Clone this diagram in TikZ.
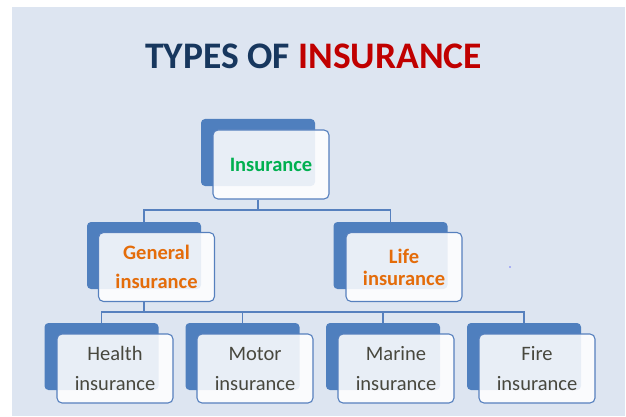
\documentclass[tikz,border=0pt]{standalone}
\usepackage{fontspec}
\setmainfont{Carlito}
\usepackage{xcolor}
\usepackage{tikz}

\definecolor{pagebg}{RGB}{221,229,241}
\definecolor{boxblue}{RGB}{79,127,190}
\definecolor{edgeblue}{RGB}{86,128,190}
\definecolor{titlenavy}{RGB}{23,55,94}
\definecolor{titlered}{RGB}{192,0,0}
\definecolor{topgreen}{RGB}{0,176,80}
\definecolor{midorange}{RGB}{228,108,10}
\definecolor{leafgray}{RGB}{72,72,62}

\begin{document}
\begin{tikzpicture}[x = 1pt, y = -1pt,
        backbox/.style = {fill = boxblue, rounded corners = 4pt, inner sep = 0pt,
            minimum width = 114pt, minimum height = 67pt},
        frontbox/.style = {draw = edgeblue, line width = 1.1pt, fill = white,
            fill opacity = 0.87, text opacity = 1, rounded corners = 5pt,
            inner sep = 0pt, align = center,
            minimum width = 116pt, minimum height = 69pt},
        link/.style = {draw = edgeblue, line width = 1.3pt}]
        \useasboundingbox (0, 0) rectangle (626, 417);
        \fill[pagebg] (12, 7) rectangle (625, 416);

        \node[font = \fontsize{37.5}{42}\selectfont\bfseries] (title) at (313.5, 56)
            {\textcolor{titlenavy}{TYPES OF} \textcolor{titlered}{INSURANCE}};

        % top level
        \node[backbox] (insb) at (258, 152.5) {};
        \node[frontbox, text = topgreen, font = \fontsize{20.5}{30}\selectfont\bfseries]
            (ins) at (271, 164.5) {Insurance};

        % second level
        \node[backbox] (genb) at (144, 255.5) {};
        \node[frontbox, text = midorange, font = \fontsize{20.5}{29}\selectfont\bfseries]
            (gen) at (156.5, 267) {General\\insurance};
        \node[backbox] (lifeb) at (390.5, 255.5) {};
        \node[frontbox, text = midorange, font = \fontsize{20.5}{22}\selectfont\bfseries]
            (life) at (404, 267) {Life\\insurance};

        % leaves
        \node[backbox] (healthb) at (101.5, 356.5) {};
        \node[frontbox, text = leafgray, font = \fontsize{20.5}{30}\selectfont]
            (health) at (115, 368.5) {Health\\insurance};
        \node[backbox] (motorb) at (242.5, 356.5) {};
        \node[frontbox, text = leafgray, font = \fontsize{20.5}{30}\selectfont]
            (motor) at (255, 368.5) {Motor\\insurance};
        \node[backbox] (marineb) at (383, 356.5) {};
        \node[frontbox, text = leafgray, font = \fontsize{20.5}{30}\selectfont]
            (marine) at (396, 368.5) {Marine\\insurance};
        \node[backbox] (fireb) at (524, 356.5) {};
        \node[frontbox, text = leafgray, font = \fontsize{20.5}{30}\selectfont]
            (fire) at (537, 368.5) {Fire\\insurance};

        % connectors
        \coordinate (busa) at (258, 210);
        \coordinate (busb) at (144, 312);
        \draw[link] (ins.south -| insb.north) -- (busa);
        \draw[link] (genb.north) |- (busa) -| (lifeb.north);
        \draw[link] (gen.south -| genb.north) -- (busb);
        \draw[link] (healthb.north) |- (busb) -| (fireb.north);
        \draw[link] (motorb.north) -- (motorb.north |- busb);
        \draw[link] (marineb.north) -- (marineb.north |- busb);

        \fill[blue] (510, 267) circle (0.7pt);
    \end{tikzpicture}
\end{document}
